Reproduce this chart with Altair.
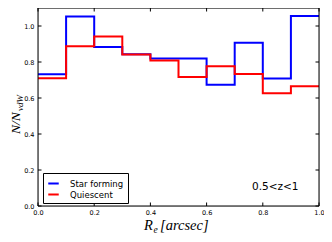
import altair as alt
import pandas as pd

edges = [0.0, 0.1, 0.2, 0.3, 0.4, 0.5, 0.6, 0.7, 0.8, 0.9, 1.0]
star_forming = [0.732, 1.053, 0.883, 0.843, 0.820, 0.820, 0.674, 0.907, 0.709, 1.055]
quiescent = [0.710, 0.887, 0.942, 0.842, 0.809, 0.716, 0.776, 0.734, 0.627, 0.665]
series_names = ["Star forming", "Quiescent"]
series_colors = ["#0000ff", "#ff0000"]
tick_vals = [0.0, 0.2, 0.4, 0.6, 0.8, 1.0]

W, H = 281, 198
TL = 3.5

def step_df(vals, name):
    return pd.DataFrame({"x": edges, "y": vals + [vals[-1]], "series": name})

sf_df = step_df(star_forming, series_names[0])
q_df = step_df(quiescent, series_names[1])

xs = alt.Scale(domain=[0, 1], nice=False, zero=False)
ys = alt.Scale(domain=[0, 1.1], nice=False, zero=False)
cs = alt.Scale(domain=series_names, range=series_colors)

xaxis = alt.Axis(values=tick_vals, format=".1f", ticks=False, labelFontSize=6.5,
                 labelFont="DejaVu Sans", labelColor="#000", labelPadding=3,
                 domain=False, grid=False, title=None, labelFlush=False)
yaxis = alt.Axis(values=tick_vals, format=".1f", ticks=False, labelFontSize=6.5,
                 labelFont="DejaVu Sans", labelColor="#000", labelPadding=4,
                 domain=False, grid=False, title=None, labelFlush=False)

legend = alt.Legend(title=None, orient="none", legendX=5, legendY=165,
                    symbolType="stroke", symbolStrokeWidth=2, symbolSize=110,
                    labelFont="DejaVu Sans", labelFontSize=8.5, labelColor="#000",
                    strokeColor="#000", fillColor="#fff", padding=4,
                    rowPadding=0, labelOffset=10, cornerRadius=0, labelLimit=200)

X = alt.X("x:Q", scale=xs, axis=xaxis)
Y = alt.Y("y:Q", scale=ys, axis=yaxis)

def line(df):
    return alt.Chart(df).mark_line(interpolate="step-after", strokeWidth=2).encode(
        x=X, y=Y, color=alt.Color("series:N", scale=cs, legend=legend))

blue = line(sf_df)
red = line(q_df)

tick_df = pd.DataFrame({"x": tick_vals, "y": tick_vals})
tx_bottom = alt.Chart(tick_df).mark_rule(color="#000", strokeWidth=1).encode(
    x=X, y=alt.value(H), y2=alt.value(H - TL))
tx_top = alt.Chart(tick_df).mark_rule(color="#000", strokeWidth=1).encode(
    x=X, y=alt.value(0), y2=alt.value(TL))
ty_left = alt.Chart(tick_df).mark_rule(color="#000", strokeWidth=1).encode(
    y=Y, x=alt.value(0), x2=alt.value(TL))
ty_right = alt.Chart(tick_df).mark_rule(color="#000", strokeWidth=1).encode(
    y=Y, x=alt.value(W), x2=alt.value(W - TL))

frame = alt.Chart(pd.DataFrame({"a": [0]})).mark_rect(
    fill=None, stroke="#000", strokeWidth=1).encode(
    x=alt.value(0), x2=alt.value(W), y=alt.value(0), y2=alt.value(H))

def txt(s, x, y, size, italic=True, font="Liberation Serif", angle=0, align="left"):
    kw = dict(text=s, font=font, fontSize=size, color="#000", align=align,
              baseline="alphabetic")
    if italic:
        kw["fontStyle"] = "italic"
    if angle:
        kw["angle"] = angle
    return alt.Chart(pd.DataFrame({"a": [0]})).mark_text(**kw).encode(
        x=alt.value(x), y=alt.value(y))

labels = [
    txt("R", 106, 222, 14.5),
    txt("e", 115.5, 225, 9.5),
    txt("[arcsec]", 122, 222, 14.5),
    txt("N/N", -18.5, 126, 13.5, angle=270),
    txt("vdW", -15.5, 103, 9, angle=270),
    txt("0.5<z<1", 214, 182, 10.5, italic=False, font="DejaVu Sans"),
]

chart = alt.layer(blue, red, tx_bottom, tx_top, ty_left, ty_right, frame, *labels).properties(
    width=W, height=H,
    autosize=alt.AutoSizeParams(type="none"),
    padding={"left": 30, "top": 0, "right": 5, "bottom": 28},
).configure_view(stroke=None).configure(background="#fff")

chart.save("out.html", embed_options={"renderer": "svg", "actions": False})
